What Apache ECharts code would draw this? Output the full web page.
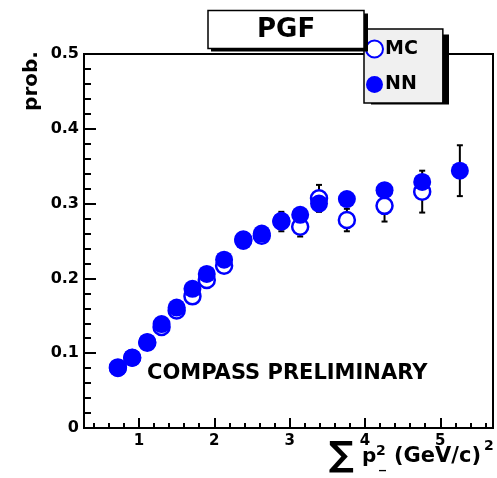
<!DOCTYPE html>
<html><head><meta charset="utf-8">
<script src="https://cdn.jsdelivr.net/npm/echarts@6/dist/echarts.min.js"></script>
<style>html,body{margin:0;padding:0;background:#fff}#c{width:497px;height:478px}</style>
</head><body><div id="c"></div>
<script>
// ---- data ----
const xBins   = [0.72, 0.91, 1.11, 1.30, 1.50, 1.71, 1.90, 2.13, 2.385, 2.63, 2.89, 3.14, 3.39, 3.76, 4.26, 4.76, 5.26];
const nnProb  = [0.080, 0.094, 0.115, 0.139, 0.161, 0.186, 0.206, 0.225, 0.250, 0.260, 0.277, 0.285, 0.300, 0.306, 0.318, 0.329, 0.344];
const mcProb  = [0.081, 0.094, 0.114, 0.135, 0.157, 0.176, 0.198, 0.217, 0.252, 0.257, 0.276, 0.269, 0.307, 0.278, 0.297, 0.316, null];
const mcErr   = [0.003, 0.003, 0.003, 0.003, 0.004, 0.004, 0.005, 0.006, 0.007, 0.009, 0.013, 0.013, 0.018, 0.015, 0.021, 0.028, null];
const nnErr   = [null, null, null, null, null, null, null, null, null, null, null, null, null, null, null, null, 0.034];
const xMajorTicks = [1, 2, 3, 4, 5];
const xMinorTicks = [0.4, 0.6, 0.8, 1.2, 1.4, 1.6, 1.8, 2.2, 2.4, 2.6, 2.8, 3.2, 3.4, 3.6, 3.8, 4.2, 4.4, 4.6, 4.8, 5.2, 5.4, 5.6];
const seriesNames = ['MC', 'NN'];
const titleText = 'PGF';
const yAxisTitle = 'prob.';
const noteText = 'COMPASS PRELIMINARY';

const FONT = 'DejaVu Sans';
const BLUE = '#0000ff';

const chart = echarts.init(document.getElementById('c'), null, {renderer: 'canvas'});

function errRender(params, api) {
  const x = api.value(0), y = api.value(1), e = api.value(2);
  const top = api.coord([x, y + e]);
  const bot = api.coord([x, y - e]);
  const w = 3;
  const st = {stroke: '#000', lineWidth: 2};
  return {type: 'group', children: [
    {type: 'line', shape: {x1: top[0], y1: top[1], x2: bot[0], y2: bot[1]}, style: st},
    {type: 'line', shape: {x1: top[0] - w, y1: top[1], x2: top[0] + w, y2: top[1]}, style: st},
    {type: 'line', shape: {x1: bot[0] - w, y1: bot[1], x2: bot[0] + w, y2: bot[1]}, style: st}
  ]};
}

const mcErrData = xBins.map((x, i) => [x, mcProb[i], mcErr[i]]).filter(d => d[1] != null && d[2] != null);
const nnErrData = xBins.map((x, i) => [x, nnProb[i], nnErr[i]]).filter(d => d[1] != null && d[2] != null);

const option = {
  backgroundColor: '#fff',
  animation: false,
  title: {
    text: titleText, left: 208, top: 10.5,
    backgroundColor: '#fff', borderColor: '#000', borderWidth: 1.5,
    padding: [4, 49, 3, 49],
    textStyle: {fontFamily: FONT, fontWeight: 'bold', fontSize: 26, lineHeight: 31, color: '#000'}
  },
  legend: {
    data: seriesNames, orient: 'vertical', left: 364, top: 29,
    icon: 'circle', itemWidth: 17, itemHeight: 17, itemGap: 16.5,
    padding: [10.5, 25, 9, 1],
    backgroundColor: '#f0f0f0', borderColor: '#000', borderWidth: 1.5,
    selectedMode: false,
    textStyle: {fontFamily: FONT, fontWeight: 'bold', fontSize: 19, color: '#000', padding: [0, 0, 0, -3]}
  },
  grid: {left: 84, right: 4, top: 54, bottom: 50, show: true, borderColor: '#000', borderWidth: 2, outerBoundsMode: 'none'},
  xAxis: [{
    type: 'value', min: 0.27, max: 5.7,
    axisLine: {show: true, onZero: false, lineStyle: {color: '#000', width: 2}},
    axisTick: {show: true, inside: true, length: 10, customValues: xMajorTicks, lineStyle: {color: '#000', width: 2}},
    axisLabel: {show: true, customValues: xMajorTicks, margin: 6, fontFamily: FONT, fontWeight: 'bold', fontSize: 15, color: '#000'},
    splitLine: {show: false}
  }, {
    type: 'value', min: 0.27, max: 5.7, position: 'bottom',
    axisLine: {show: false},
    axisTick: {show: true, inside: true, length: 5, customValues: xMinorTicks, lineStyle: {color: '#000', width: 2}},
    axisLabel: {show: false},
    splitLine: {show: false}
  }],
  yAxis: {
    type: 'value', min: 0, max: 0.5, interval: 0.1,
    axisLine: {show: true, onZero: false, lineStyle: {color: '#000', width: 2}},
    axisTick: {show: true, inside: true, length: 12, lineStyle: {color: '#000', width: 2}},
    minorTick: {show: true, splitNumber: 5, length: 7, lineStyle: {color: '#000', width: 2}},
    axisLabel: {margin: 5, fontFamily: FONT, fontWeight: 'bold', fontSize: 16, color: '#000',
      formatter: v => v === 0 ? '0' : v.toFixed(1)},
    splitLine: {show: false}
  },
  graphic: [
    {type: 'rect', z: 5, shape: {x: 211, y: 13.5, width: 157, height: 38}, style: {fill: '#000'}},
    {type: 'rect', z: 3, shape: {x: 371, y: 34.5, width: 78, height: 70}, style: {fill: '#000'}},
    {type: 'text', z: 10, rotation: Math.PI / 2, x: 32, y: 81,
      style: {text: yAxisTitle, font: 'bold 20px "DejaVu Sans"', fill: '#000', align: 'center', verticalAlign: 'middle'}},
    {type: 'text', z: 10, x: 147, y: 374,
      style: {text: noteText, font: 'bold 21px "DejaVu Sans"', fill: '#000', align: 'left', verticalAlign: 'middle'}},
    {type: 'text', z: 10, x: 341, y: 457,
      style: {text: '\u2211', font: 'bold 35px "DejaVu Sans"', fill: '#000', align: 'center', verticalAlign: 'middle'}},
    {type: 'text', z: 10, x: 362, y: 456.5,
      style: {text: 'p', font: 'bold 20px "DejaVu Sans"', fill: '#000', align: 'left', verticalAlign: 'middle'}},
    {type: 'text', z: 10, x: 376, y: 451.5,
      style: {text: '2', font: 'bold 14px "DejaVu Sans"', fill: '#000', align: 'left', verticalAlign: 'middle'}},
    {type: 'text', z: 10, x: 379, y: 464,
      style: {text: '_', font: 'bold 14px "DejaVu Sans"', fill: '#000', align: 'left', verticalAlign: 'middle'}},
    {type: 'text', z: 10, x: 394, y: 456.5,
      style: {text: '(GeV/c)', font: 'bold 21px "DejaVu Sans"', fill: '#000', align: 'left', verticalAlign: 'middle'}},
    {type: 'text', z: 10, x: 484, y: 446.5,
      style: {text: '2', font: 'bold 14px "DejaVu Sans"', fill: '#000', align: 'left', verticalAlign: 'middle'}}
  ],
  series: [
    {type: 'custom', name: 'MC err', xAxisIndex: 0, renderItem: errRender, data: mcErrData, z: 2, silent: true},
    {type: 'custom', name: 'NN err', xAxisIndex: 0, renderItem: errRender, data: nnErrData, z: 2, silent: true},
    {type: 'scatter', name: seriesNames[0], xAxisIndex: 0, symbol: 'circle', symbolSize: 16, z: 3,
      itemStyle: {color: '#fff', borderColor: BLUE, borderWidth: 2.5, opacity: 1},
      data: xBins.map((x, i) => [x, mcProb[i]]).filter(d => d[1] != null)},
    {type: 'scatter', name: seriesNames[1], xAxisIndex: 0, symbol: 'circle', symbolSize: 18, z: 4,
      itemStyle: {color: BLUE, opacity: 1},
      data: xBins.map((x, i) => [x, nnProb[i]])}
  ]
};
chart.setOption(option);
</script>
</body></html>
